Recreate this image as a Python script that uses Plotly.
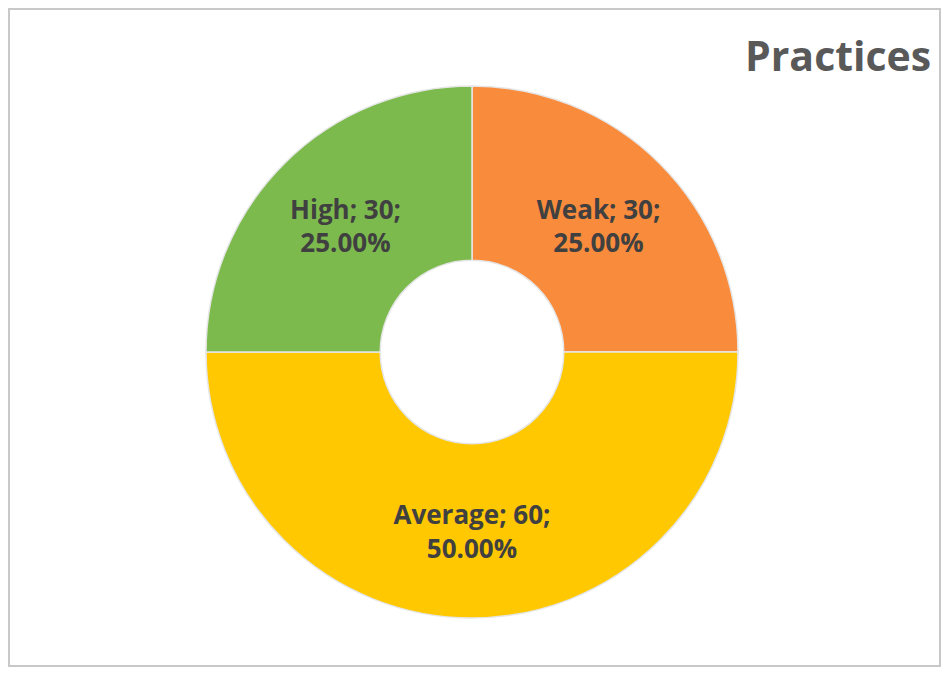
import plotly.graph_objects as go

labels = ["Weak", "Average", "High"]
values = [30, 60, 30]
colors = ["#F98B3C", "#FFC800", "#7CBA4E"]
title_text = "Practices"

# figure sits at an 8px page offset; size it to fit the 949x675 window
W, H = 933, 659
OFF = 8
cx, cy, R = 472 - OFF, 352 - OFF, 266

fig = go.Figure(go.Pie(
    labels=labels,
    values=values,
    hole=0.345,
    sort=False,
    direction="clockwise",
    rotation=0,
    marker=dict(colors=colors, line=dict(color="#E6E6E6", width=1.5)),
    texttemplate="%{label}; %{value};<br>%{percent:.2%}",
    textposition="inside",
    insidetextorientation="horizontal",
    textfont=dict(family="Open Sans", size=26, color="#404040", weight="bold"),
    showlegend=False,
    domain=dict(x=[(cx - R) / W, (cx + R) / W], y=[1 - (cy + R) / H, 1 - (cy - R) / H]),
))

fig.update_layout(
    width=W, height=H,
    margin=dict(l=0, r=0, t=0, b=0),
    paper_bgcolor="white",
    plot_bgcolor="white",
    annotations=[dict(
        text="<b>" + title_text + "</b>", x=(933 - OFF) / W, y=1 - (55 - OFF) / H,
        xref="paper", yref="paper",
        xanchor="right", yanchor="middle", showarrow=False,
        font=dict(family="Open Sans", size=41, color="#595959"),
    )],
    shapes=[dict(
        type="rect", xref="paper", yref="paper",
        x0=1 / W, x1=(W - 1) / W, y0=1 / H, y1=(H - 1) / H,
        line=dict(color="#C8C8C8", width=2),
    )],
)

fig.write_html("out.html")
